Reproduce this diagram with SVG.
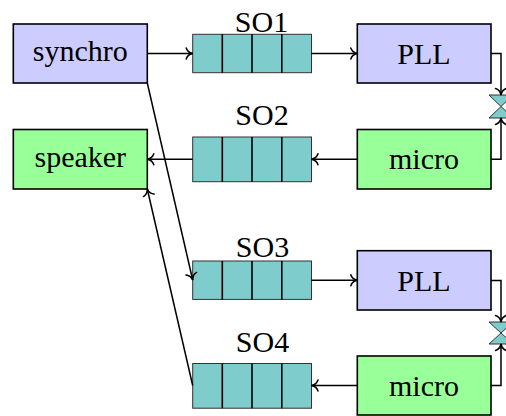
<svg xmlns="http://www.w3.org/2000/svg" width="506" height="416" viewBox="0 0 506 416">
<defs>
<marker id="to" markerUnits="userSpaceOnUse" markerWidth="16" markerHeight="16" refX="0" refY="0" orient="auto" overflow="visible">
<path d="M-6.5,-5.5 C-5.5,-2.2 -2,-0.4 0,0 C-2,0.4 -5.5,2.2 -6.5,5.5" fill="none" stroke="#000" stroke-width="1.5" stroke-linecap="round"/>
</marker>
</defs>
<style>
.blue{fill:#ccccff;stroke:#000;stroke-width:1.6}
.green{fill:#99ff99;stroke:#000;stroke-width:1.6}
.q{fill:#7fcccc;stroke:#333;stroke-width:1}
.div{stroke:#000;stroke-width:1.6}
.bt{fill:#7fcccc;stroke:#333;stroke-width:1}
text{font-family:"Liberation Serif","Times New Roman",serif;font-size:30px;fill:#000;text-anchor:middle}
.c{fill:none;stroke:#000;stroke-width:1.5;marker-end:url(#to)}
</style>
<g id="synchro"><rect class="blue" x="13.3" y="24" width="134" height="59"/><text x="80.3" y="61">synchro</text></g>
<g id="speaker"><rect class="green" x="13.3" y="129.5" width="134" height="59.5"/><text x="80.3" y="166.5">speaker</text></g>
<g id="PLL1"><rect class="blue" x="357.3" y="24" width="133.7" height="59"/><text x="424" y="64">PLL</text></g>
<g id="micro1"><rect class="green" x="357.3" y="129.5" width="133.7" height="59.5"/><text x="424" y="169">micro</text></g>
<g id="PLL2"><rect class="blue" x="357.3" y="250.7" width="133.7" height="59.3"/><text x="424" y="291">PLL</text></g>
<g id="micro2"><rect class="green" x="357.3" y="356" width="133.7" height="59"/><text x="424" y="395.5">micro</text></g>
<g id="SO1"><rect class="q" x="192.7" y="34.3" width="118.8" height="38.4"/><path class="div" d="M222.3,34.3V72.7M252,34.3V72.7M281.8,34.3V72.7"/><text x="261.5" y="31.5">SO1</text></g>
<g id="SO2"><rect class="q" x="192.7" y="137" width="118.8" height="44.7"/><path class="div" d="M222.3,137V181.7M252,137V181.7M281.8,137V181.7"/><text x="262" y="125">SO2</text></g>
<g id="SO3"><rect class="q" x="192.7" y="261" width="118.8" height="38.4"/><path class="div" d="M222.3,261V299.4M252,261V299.4M281.8,261V299.4"/><text x="262.5" y="257">SO3</text></g>
<g id="SO4"><rect class="q" x="192.7" y="363.5" width="118.8" height="44.7"/><path class="div" d="M222.3,363.5V408.2M252,363.5V408.2M281.8,363.5V408.2"/><text x="262.5" y="352">SO4</text></g>
<g id="bowtie1"><path class="bt" d="M489,95H513L489,118H513Z"/></g>
<g id="bowtie2"><path class="bt" d="M489,322H513L489,344H513Z"/></g>
<g id="connectors">
<path class="c" d="M147.3,53.5H192.7"/>
<path class="c" d="M311.5,53.5H357.3"/>
<path class="c" d="M357.3,159.3H311.5"/>
<path class="c" d="M192.7,159.3H147.3"/>
<path class="c" d="M147.3,83L192.7,280"/>
<path class="c" d="M192.7,385.5L147.3,189"/>
<path class="c" d="M311.5,280.3H357.3"/>
<path class="c" d="M357.3,385.5H311.5"/>
<path class="c" d="M491,53.5H501V95"/>
<path class="c" d="M491,159.3H501V118"/>
<path class="c" d="M491,280.5H501V322"/>
<path class="c" d="M491,385.5H501V344"/>
</g>
</svg>
